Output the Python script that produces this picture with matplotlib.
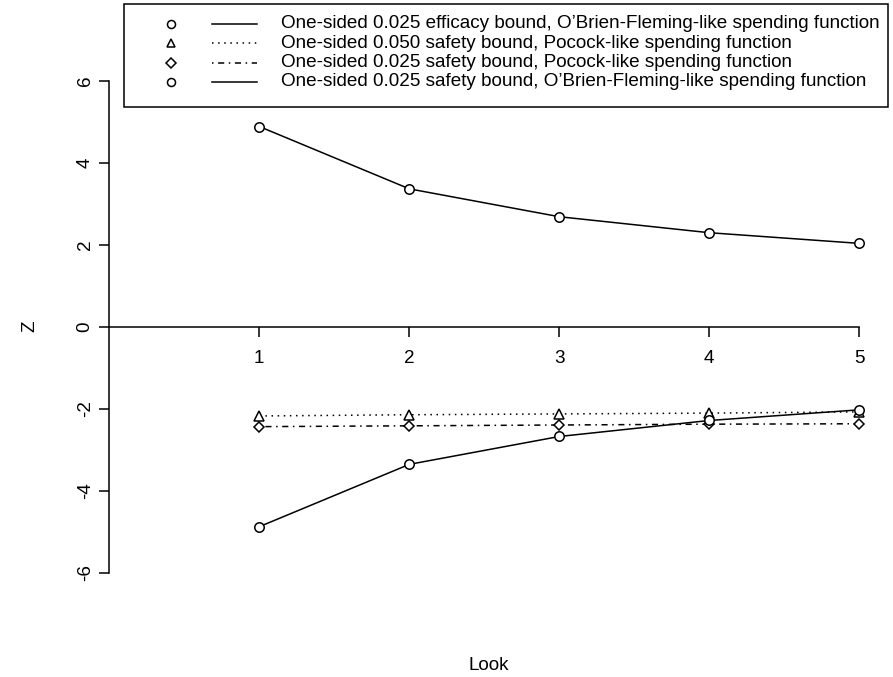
import matplotlib
matplotlib.use("Agg")
import matplotlib.pyplot as plt
from matplotlib.lines import Line2D

plt.rcParams['font.family'] = ['Liberation Sans', 'DejaVu Sans']

looks = [1, 2, 3, 4, 5]
efficacy_obf = [4.88, 3.36, 2.68, 2.29, 2.03]
safety_pocock_050 = [-2.18, -2.15, -2.13, -2.11, -2.08]
safety_pocock_025 = [-2.44, -2.42, -2.40, -2.38, -2.37]
safety_obf_025 = [-4.88, -3.36, -2.68, -2.29, -2.03]

legend_labels = [
    "One-sided 0.025 efficacy bound, O\u2019Brien-Fleming-like spending function",
    "One-sided 0.050 safety bound, Pocock-like spending function",
    "One-sided 0.025 safety bound, Pocock-like spending function",
    "One-sided 0.025 safety bound, O\u2019Brien-Fleming-like spending function",
]
y_ticks = [-6, -4, -2, 0, 2, 4, 6]

W, H = 893, 677
fs = 13.6
fig = plt.figure(figsize=(W / 100, H / 100), dpi=100)
ax = fig.add_axes([0, 0, 1, 1])
ax.patch.set_alpha(0)

# pixel layout: x=0 at 109.3px, 150px per look; y=0 at 326.6px, 41px per unit
x0, xs = 109.3, 150.0
y0, ys = 326.6, 41.0
ax.set_xlim(-x0 / xs, (W - x0) / xs)
ax.set_ylim(-(H - y0) / ys, y0 / ys)

lw = 1.1
ms = 6.8
series = [
    (efficacy_obf, 'o', '-', ms),
    (safety_pocock_050, '^', (0, (1, 3)), ms),
    (safety_pocock_025, 'D', (0, (1, 3, 4, 3)), 5.6),
    (safety_obf_025, 'o', '-', ms),
]
for vals, mk, ls, msz in series:
    ax.plot(looks, vals, color='black', linestyle=ls, linewidth=lw, marker=mk,
            markersize=msz, markerfacecolor='white', markeredgecolor='black',
            markeredgewidth=1.1, clip_on=False, zorder=3)

# axes like R: y axis at x=0, x axis drawn at y=0
for s in ['top', 'right']:
    ax.spines[s].set_visible(False)
ax.spines['left'].set_position(('data', 0))
ax.spines['left'].set_bounds(-6, 6)
ax.spines['bottom'].set_position(('data', 0))
ax.spines['bottom'].set_bounds(0, 5)
for s in ['left', 'bottom']:
    ax.spines[s].set_linewidth(1.1)

ax.set_yticks(y_ticks)
ax.set_yticklabels([str(t) for t in y_ticks], rotation=90, va='center')
ax.set_xticks(looks)
ax.tick_params(axis='both', direction='out', length=7.2, width=1.1, labelsize=fs)
ax.tick_params(axis='y', pad=4)
ax.tick_params(axis='x', pad=10)

fig.text(30 / W, 1 - y0 / H, 'Z', rotation=90, ha='center', va='center', fontsize=fs)
fig.text(489 / W, 1 - 665 / H, 'Look', ha='center', va='center', fontsize=fs)

# legend box drawn in pixel space, like R's legend()
def px(x, y):
    return x / W, 1 - y / H

bx0, by0, bx1, by1 = 124, 4, 888, 107
fig.add_artist(plt.Rectangle(px(bx0, by1), (bx1 - bx0) / W, (by1 - by0) / H,
                             transform=fig.transFigure, facecolor='white',
                             edgecolor='black', linewidth=1.1, zorder=5))
row_y = [24, 43.3, 62.6, 82]
for (vals, mk, ls, msz), lab, ry in zip(series, legend_labels, row_y):
    fig.add_artist(Line2D([px(171, ry)[0]], [px(171, ry)[1]], marker=mk, markersize=msz * 0.85,
                          markerfacecolor='white', markeredgecolor='black',
                          markeredgewidth=1.1, linestyle='none',
                          transform=fig.transFigure, zorder=6))
    fig.add_artist(Line2D([px(212, ry)[0], px(257, ry)[0]], [px(212, ry)[1], px(257, ry)[1]],
                          color='black', linestyle=ls, linewidth=lw,
                          transform=fig.transFigure, zorder=6))
    fig.text(281 / W, 1 - ry / H, lab, ha='left', va='center', fontsize=fs, zorder=7)

fig.savefig('out.png', dpi=100)
